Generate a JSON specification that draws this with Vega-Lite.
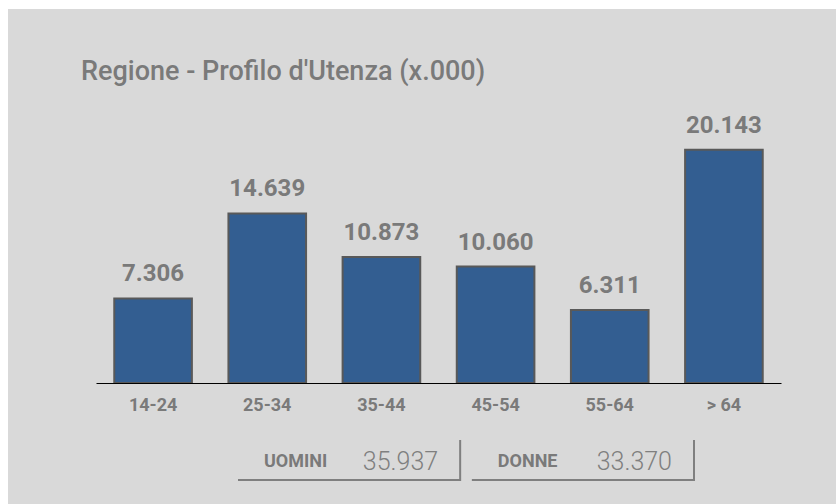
{
  "$schema": "https://vega.github.io/schema/vega-lite/v6.json",
  "width": 828,
  "height": 495,
  "autosize": {"type": "none"},
  "padding": {"left": 8, "top": 9, "right": 0, "bottom": 0},
  "background": "white",
  "config": {
    "view": {"fill": "#d9d9d9", "stroke": null},
    "font": "Roboto",
    "locale": {"number": {"decimal": ",", "thousands": ".", "grouping": [3], "currency": ["€", ""]}}
  },
  "title": {
    "text": "Regione - Profilo d'Utenza (x.000)",
    "anchor": "start",
    "frame": "group",
    "orient": "top",
    "offset": -77,
    "dx": 73,
    "font": "Roboto",
    "fontSize": 27,
    "fontWeight": 500,
    "color": "#7a7a7a"
  },
  "layer": [
    {
      "data": {"values": [
        {"eta": "14-24", "valore": 7306},
        {"eta": "25-34", "valore": 14639},
        {"eta": "35-44", "valore": 10873},
        {"eta": "45-54", "valore": 10060},
        {"eta": "55-64", "valore": 6311},
        {"eta": "> 64", "valore": 20143}
      ]},
      "encoding": {
        "x": {
          "field": "eta", "type": "nominal", "sort": null,
          "scale": {"range": [88, 773], "paddingInner": 0.32, "paddingOuter": 0.16},
          "axis": {"title": null, "offset": -121, "domainColor": "#000000", "domainWidth": 1, "ticks": false, "labelPadding": 13, "labelFontSize": 18, "labelFontWeight": "bold", "labelColor": "#7a7a7a", "labelAngle": 0, "labelFont": "Roboto", "zindex": 1}
        },
        "y": {
          "field": "valore", "type": "quantitative",
          "scale": {"domain": [-10450, 32300], "nice": false, "zero": false},
          "axis": null
        }
      },
      "layer": [
        {"mark": {"type": "bar", "fill": "#335e91", "stroke": "#595959", "strokeWidth": 2}},
        {"mark": {"type": "text", "dy": -17, "baseline": "alphabetic", "fontSize": 24, "fontWeight": "bold", "color": "#7a7a7a"},
         "encoding": {"text": {"field": "valore", "type": "quantitative", "format": ",.0f"}}}
      ]
    },
    {
      "data": {"values": [
        {"gruppo": "UOMINI", "totale": 35937},
        {"gruppo": "DONNE", "totale": 33370}
      ]},
      "encoding": {
        "x": {
          "field": "gruppo", "type": "nominal", "sort": null,
          "scale": {"range": [230, 686], "paddingInner": 0.05, "paddingOuter": 0},
          "axis": null
        }
      },
      "layer": [
        {"mark": {"type": "bar", "fill": "#7f7f7f"},
         "encoding": {"y": {"datum": -8290}, "y2": {"datum": -8463}}},
        {"mark": {"type": "rule", "stroke": "#7f7f7f", "strokeWidth": 2},
         "encoding": {"x": {"field": "gruppo", "type": "nominal", "sort": null, "bandPosition": 1}, "y": {"datum": -4923}, "y2": {"datum": -8463}}},
        {"mark": {"type": "text", "align": "left", "dx": 26, "baseline": "middle", "fontSize": 18, "fontWeight": "bold", "color": "#7a7a7a"},
         "encoding": {"x": {"field": "gruppo", "type": "nominal", "sort": null, "bandPosition": 0}, "y": {"datum": -6823}, "text": {"field": "gruppo"}}},
        {"mark": {"type": "text", "align": "right", "dx": -22, "baseline": "middle", "fontSize": 25, "fontWeight": 300, "color": "#7f7f7f"},
         "encoding": {"x": {"field": "gruppo", "type": "nominal", "sort": null, "bandPosition": 1}, "y": {"datum": -6823}, "text": {"field": "totale", "type": "quantitative", "format": ",.0f"}}}
      ]
    }
  ],
  "resolve": {"scale": {"x": "independent"}}
}
